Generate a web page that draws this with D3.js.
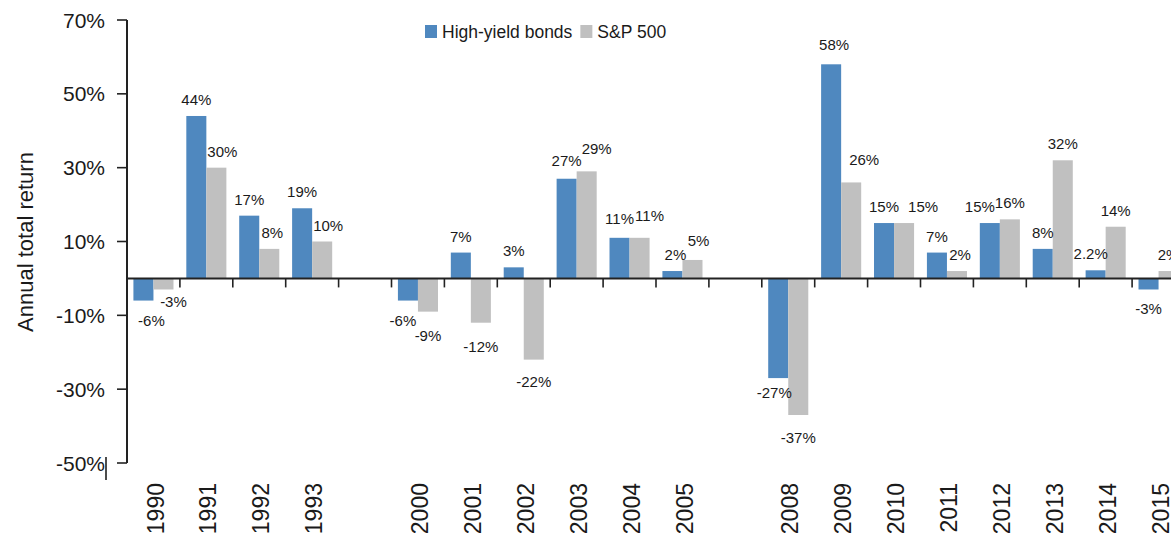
<!DOCTYPE html>
<html>
<head>
<meta charset="utf-8">
<script src="https://cdn.jsdelivr.net/npm/d3@7"></script>
<style>
  body { margin: 0; background: #fff; }
  text { font-family: Arial, "Liberation Sans", sans-serif; fill: #1a1a1a; }
</style>
</head>
<body>
<svg id="chart" width="1171" height="535"></svg>
<script>
// data
const years = ["1990", "1991", "1992", "1993", "2000", "2001", "2002", "2003", "2004",
               "2005", "2008", "2009", "2010", "2011", "2012", "2013", "2014", "2015"];
// x slots, with one empty slot between the three year groups
const slots = ["1990", "1991", "1992", "1993", "gap-a", "2000", "2001", "2002", "2003", "2004",
               "2005", "gap-b", "2008", "2009", "2010", "2011", "2012", "2013", "2014", "2015"];
const highYield = [-6, 44, 17, 19, -6, 7, 3, 27, 11, 2, -27, 58, 15, 7, 15, 8, 2.2, -3];
const sp500     = [-3, 30, 8, 10, -9, -12, -22, 29, 11, 5, -37, 26, 15, 2, 16, 32, 14, 2];
const yTicks = [-50, -30, -10, 10, 30, 50, 70];
const seriesNames = ["High-yield bonds", "S&P 500"];
const seriesColors = ["#4f88bf", "#c0c0c0"];

// hand nudges for labels that the original moved off centre [dx, dy]
const labelNudge = {
    "1990|0": [8, 0], "1990|1": [10, -7], "1991|1": [6, 0], "1992|1": [3, 0], "1993|1": [6, 0],
    "2000|0": [-5, 0], "2000|1": [0, 4], "2001|1": [0, 4], "2002|1": [0, 2],
    "2003|0": [0, -2], "2003|1": [10, -6], "2004|0": [0, -3], "2004|1": [10, -6],
    "2005|0": [3, 0], "2005|1": [6, -3], "2008|0": [-4, -5], "2008|1": [0, 3],
    "2009|0": [3, -3], "2009|1": [13, -6], "2010|1": [19, 0], "2011|1": [3, 0],
    "2012|0": [-10, 0], "2014|0": [-5, 0]
};

const svg = d3.select("#chart");

const axisLeft = 127;
const x = d3.scaleBand()
    .domain(slots)
    .range([axisLeft, axisLeft + 52.9 * slots.length])
    .paddingInner(0)
    .paddingOuter(0);

const x1 = d3.scaleBand()
    .domain([0, 1])
    .range([0, x.bandwidth()])
    .paddingOuter(0.32)
    .paddingInner(0);

const y = d3.scaleLinear()
    .domain([-50, 70])
    .range([463, 20]);

const rows = years.map((yr, i) => ({year: yr, values: [highYield[i], sp500[i]]}));

// bars
const groups = svg.append("g")
    .selectAll("g")
    .data(rows)
    .join("g")
    .attr("transform", d => "translate(" + x(d.year) + ",0)");

groups.selectAll("rect")
    .data(d => d.values.map((v, s) => ({year: d.year, s: s, v: v})))
    .join("rect")
    .attr("x", d => x1(d.s))
    .attr("width", x1.bandwidth())
    .attr("y", d => y(Math.max(0, d.v)))
    .attr("height", d => Math.abs(y(d.v) - y(0)))
    .attr("fill", d => seriesColors[d.s]);

// value labels
groups.selectAll("text")
    .data(d => d.values.map((v, s) => ({year: d.year, s: s, v: v})))
    .join("text")
    .attr("text-anchor", "middle")
    .attr("font-size", 15)
    .attr("x", d => x1(d.s) + x1.bandwidth() / 2 + (labelNudge[d.year + "|" + d.s] || [0, 0])[0])
    .attr("y", d => (d.v >= 0 ? y(d.v) - 11 : y(d.v) + 25) + (labelNudge[d.year + "|" + d.s] || [0, 0])[1])
    .text(d => d.v + "%");

// x axis line and ticks at slot boundaries
const zeroY = y(0);
svg.append("line")
    .attr("x1", axisLeft).attr("x2", 1171)
    .attr("y1", zeroY).attr("y2", zeroY)
    .attr("stroke", "#222").attr("stroke-width", 2);

svg.append("g")
    .selectAll("line")
    .data(slots.slice(1))
    .join("line")
    .attr("x1", d => x(d)).attr("x2", d => x(d))
    .attr("y1", zeroY).attr("y2", zeroY + 9)
    .attr("stroke", "#222").attr("stroke-width", 1.6);

// year labels
svg.append("g")
    .selectAll("text")
    .data(years)
    .join("text")
    .attr("transform", d => "translate(" + (x(d) + x.bandwidth() / 2 + 2) + ",483) rotate(-90)")
    .attr("text-anchor", "end")
    .attr("dy", "0.35em")
    .attr("font-size", 23)
    .text(d => d);

// y axis
svg.append("line")
    .attr("x1", axisLeft).attr("x2", axisLeft)
    .attr("y1", y(70)).attr("y2", y(-50))
    .attr("stroke", "#222").attr("stroke-width", 2);

svg.append("g")
    .selectAll("line")
    .data(yTicks)
    .join("line")
    .attr("x1", axisLeft - 10).attr("x2", axisLeft)
    .attr("y1", d => y(d)).attr("y2", d => y(d))
    .attr("stroke", "#222").attr("stroke-width", 1.6);

svg.append("g")
    .selectAll("text")
    .data(yTicks)
    .join("text")
    .attr("x", 105)
    .attr("y", d => y(d))
    .attr("dy", "0.36em")
    .attr("text-anchor", "end")
    .attr("font-size", 21)
    .text(d => d + "%");

// stray mark next to -50% in the original
svg.append("line")
    .attr("x1", 106).attr("x2", 106)
    .attr("y1", y(-50) - 6).attr("y2", y(-50) + 17)
    .attr("stroke", "#111").attr("stroke-width", 1.5);

svg.append("text")
    .attr("transform", "translate(33,242) rotate(-90)")
    .attr("text-anchor", "middle")
    .attr("font-size", 22)
    .text("Annual total return");

// legend
const legend = svg.append("g").attr("transform", "translate(425,25)");
let lx = 0;
seriesNames.forEach((name, i) => {
    legend.append("rect")
        .attr("x", lx).attr("y", 0)
        .attr("width", 12).attr("height", 13)
        .attr("fill", seriesColors[i]);
    const t = legend.append("text")
        .attr("x", lx + 17).attr("y", 12.5)
        .attr("font-size", 17.5)
        .text(name);
    lx += 17 + t.node().getComputedTextLength() + 8;
});
</script>
</body>
</html>
